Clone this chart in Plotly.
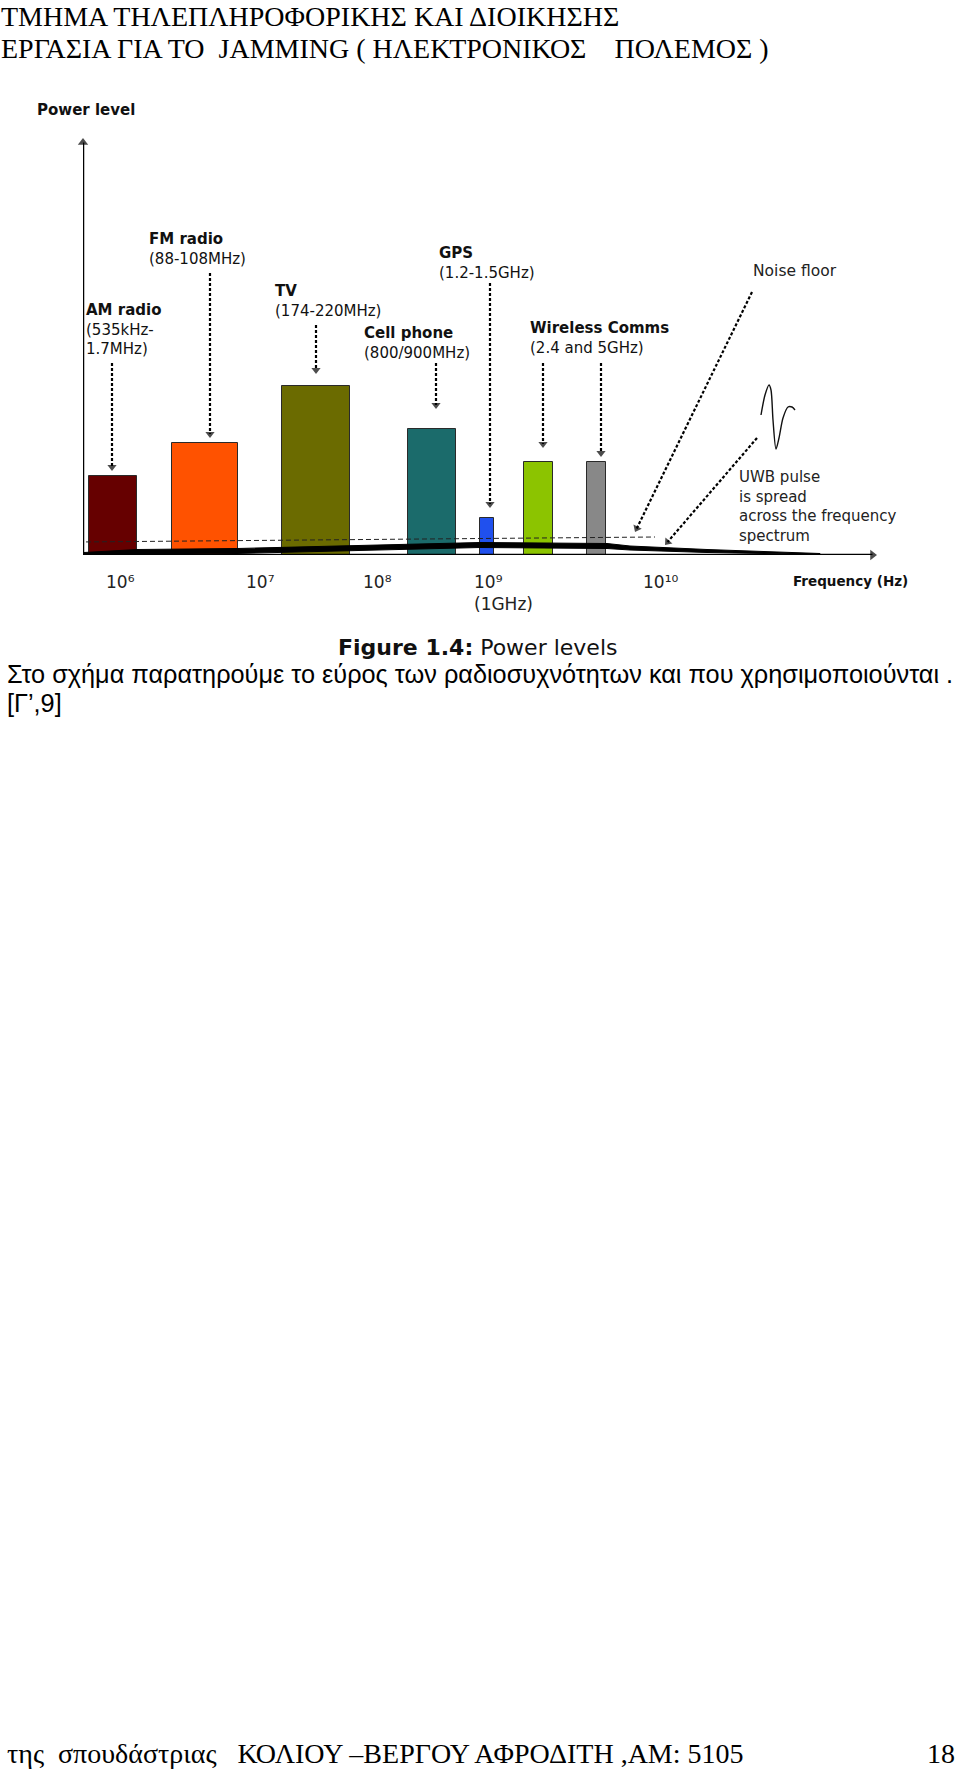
import math
import plotly.graph_objects as go

W, H = 960, 1770

# ---------------- data (schematic spectrum units) ----------------
band_names = ["AM radio", "FM radio", "TV", "Cell phone", "GPS",
              "Wireless 2.4GHz", "Wireless 5GHz"]
band_center = [30, 122, 233, 349, 404, 455.5, 513.5]
band_width = [48, 66, 68, 48, 14, 29, 19]
band_level = [79, 112, 169, 126, 37, 93, 93]
band_colors = ["#660000", "#FF5200", "#6B6B00", "#1B6B6B", "#2050EE",
               "#8CC400", "#888888"]

pointer_x = [29, 127, 233, 353, 407, 460, 518]
pointer_from = [192, 282, 230, 192, 272, 192, 192]
pointer_to = [84, 117, 181, 146, 47, 107, 98]

tick_pos = [22, 162, 279, 390, 559]
tick_text = ["10⁶", "10⁷", "10⁸", "10⁹<br>(1GHz)", "10¹⁰"]

noise_floor_x = [-5, 572]
noise_floor_y = [13, 18]

noise_arrow_x = [669, 552]
noise_arrow_y = [263, 23]
uwb_arrow_x = [674, 582]
uwb_arrow_y = [117, 10]

uwb_spec_x = [1, 54, 154, 267, 324, 397, 524, 547, 624, 737]
uwb_spec_level = [0, 3, 4, 7, 8, 10, 9, 7, 4, 1]
uwb_spec_thick = [5, 5, 5, 5, 5, 5, 5, 4, 3, 1]

pulse_x = [678, 682, 686, 688, 690, 693, 696, 700, 705, 709, 712]
pulse_y = [140, 160, 170, 165, 135, 106, 117, 137, 148, 148, 145]

x_axis_len = 794
y_axis_len = 417

# ---------------- figure ----------------
fig = go.Figure()

# bands
fig.add_trace(go.Bar(
    x=band_center, y=band_level, width=band_width, base=0,
    marker=dict(color=band_colors, line=dict(color="#2a2a2a", width=1)),
    hoverinfo="skip"))

# UWB spread (thick black wedge)
top = [l + t / 2 for l, t in zip(uwb_spec_level, uwb_spec_thick)]
bot = [l - t / 2 for l, t in zip(uwb_spec_level, uwb_spec_thick)]
fig.add_trace(go.Scatter(
    x=uwb_spec_x + uwb_spec_x[::-1], y=top + bot[::-1],
    fill="toself", fillcolor="black", mode="lines",
    line=dict(color="black", width=1), cliponaxis=False, hoverinfo="skip"))

# noise floor dashed line
fig.add_trace(go.Scatter(
    x=noise_floor_x, y=noise_floor_y, mode="lines",
    line=dict(color="#222", width=1, dash="5px,3px"),
    cliponaxis=False, hoverinfo="skip"))


def arrow(xs, ys, width, dash, head):
    """line ending with a filled triangular head whose tip is at the last point"""
    dx, dy = xs[-1] - xs[-2], ys[-1] - ys[-2]
    n = math.hypot(dx, dy)
    r = head / 2
    cx, cy = xs[-1] - dx / n * r, ys[-1] - dy / n * r
    fig.add_trace(go.Scatter(
        x=list(xs[:-1]) + [cx], y=list(ys[:-1]) + [cy], mode="lines+markers",
        line=dict(color="black", width=width, dash=dash),
        marker=dict(symbol="triangle-up", size=[0] * (len(xs) - 1) + [head],
                    angleref="previous", color="black", line=dict(width=0)),
        cliponaxis=False, hoverinfo="skip"))


# axes with arrows
arrow([0, 0], [-3, y_axis_len], 2.5, "solid", 9)
arrow([0, x_axis_len], [0, 0], 2.5, "solid", 9)

# dotted pointer arrows
for xx, y0, y1 in zip(pointer_x, pointer_from, pointer_to):
    arrow([xx, xx], [y0, y1], 2.2, "3px,2px", 8)

arrow(noise_arrow_x, noise_arrow_y, 2.2, "3px,2px", 8)
arrow(uwb_arrow_x, uwb_arrow_y, 2.2, "3px,2px", 8)

# UWB pulse sketch
fig.add_trace(go.Scatter(
    x=pulse_x, y=pulse_y, mode="lines",
    line=dict(color="#111", width=1.4, shape="spline", smoothing=0.8),
    cliponaxis=False, hoverinfo="skip"))

# ---------------- text ----------------
def P(x, y):
    return dict(x=x / W, y=1 - y / H, xref="paper", yref="paper")

ann = []
def txt(text, x, y, size, family="DejaVu Sans", color="#111",
        xanchor="left", yanchor="top", align="left"):
    d = P(x, y)
    d.update(text=text, showarrow=False, xanchor=xanchor, yanchor=yanchor,
             align=align, borderpad=0,
             font=dict(family=family, size=size, color=color))
    ann.append(d)

chart_labels = [
    ("<b>Power level</b>", 36, 100),
    ("<b>AM radio</b><br>(535kHz-<br>1.7MHz)", 85, 300),
    ("<b>FM radio</b><br>(88-108MHz)", 148, 229),
    ("<b>TV</b><br>(174-220MHz)", 274, 281),
    ("<b>Cell phone</b><br>(800/900MHz)", 363, 323),
    ("<b>GPS</b><br>(1.2-1.5GHz)", 438, 243),
    ("<b>Wireless Comms</b><br>(2.4 and 5GHz)", 529, 318),
]
for t, x, y in chart_labels:
    txt(t, x, y, 15)
txt("Noise floor", 752, 261, 15.5, color="#222")
txt("UWB pulse<br>is spread<br>across the frequency<br>spectrum", 738, 467, 15, color="#222")

for v, t in zip(tick_pos, tick_text):
    txt(t, 83 + v, 571, 17, color="#222")
txt("<b>Frequency (Hz)</b>", 792, 572, 13.5)

txt("<b>Figure 1.4:</b> Power levels", 337, 634, 22, color="#111")
txt("Στο σχήμα παρατηρούμε το εύρος των ραδιοσυχνότητων και που χρησιμοποιούνται .",
    6, 659, 25.3, family="Liberation Sans", color="black")
txt("[Γ’,9]", 6, 688, 25.3, family="Liberation Sans", color="black")

txt("ΤΜΗΜΑ ΤΗΛΕΠΛΗΡΟΦΟΡΙΚΗΣ ΚΑΙ ΔΙΟΙΚΗΣΗΣ", 0, 0, 28,
    family="Liberation Serif", color="black")
txt("ΕΡΓΑΣΙΑ ΓΙΑ ΤΟ\u00a0 JAMMING ( ΗΛΕΚΤΡΟΝΙΚΟΣ \u00a0\u00a0 ΠΟΛΕΜΟΣ )", 0, 31.5, 28,
    family="Liberation Serif", color="black")

txt("της\u00a0 σπουδάστριας \u00a0 ΚΟΛΙΟΥ –ΒΕΡΓΟΥ ΑΦΡΟΔΙΤΗ ,ΑΜ: 5105", 6, 1737, 28,
    family="Liberation Serif", color="black")
txt("18", 956, 1737, 28, family="Liberation Serif", color="black", xanchor="right")

fig.update_layout(
    width=W, height=H, margin=dict(l=0, r=0, t=0, b=0),
    paper_bgcolor="white", plot_bgcolor="white", showlegend=False,
    bargap=0,
    xaxis=dict(domain=[83 / W, 877 / W], range=[0, x_axis_len], visible=False, fixedrange=True),
    yaxis=dict(domain=[1 - 555 / H, 1 - 138 / H], range=[0, y_axis_len], visible=False, fixedrange=True),
    annotations=ann,
)

fig.write_html("out.html")
